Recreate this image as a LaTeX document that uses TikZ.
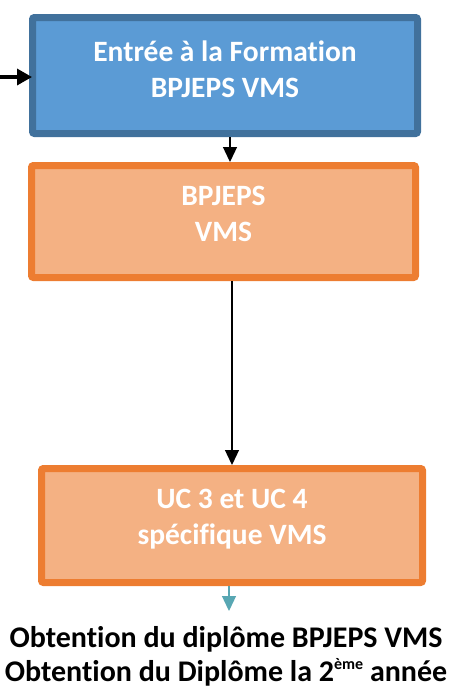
\documentclass[tikz,border=0pt]{standalone}
\usepackage{fontspec}
\setmainfont{Carlito}[Ligatures=NoCommon]
\usetikzlibrary{arrows.meta}
\definecolor{bluefill}{HTML}{5B9BD5}
\definecolor{blueline}{HTML}{41719C}
\definecolor{orfill}{HTML}{F4B183}
\definecolor{orline}{HTML}{ED7D31}
\definecolor{teal}{HTML}{58A7B3}
\begin{document}
\begin{tikzpicture}[x=1pt,y=-1pt,
  boxstyle/.style={rectangle, line width=7pt, rounded corners=2pt, inner sep=0pt},
  boxtext/.style={align=center, text=white, inner sep=0pt, font=\fontsize{29.5}{36}\selectfont\bfseries},
  bluebox/.style={boxstyle, draw=blueline, fill=bluefill},
  orbox/.style={boxstyle, draw=orline, fill=orfill},
  thinarrow/.style={line width=1.3pt, -{Triangle[length=15pt,width=14pt]}},
  thickarrow/.style={line width=3.4pt, -{Triangle[length=15pt,width=16pt]}}]
\useasboundingbox (0,0) rectangle (454,689);
\node[bluebox, minimum width=385pt, minimum height=116pt,
  label={[boxtext, yshift=6.5pt]center:Entrée à la Formation\\BPJEPS VMS}] (entry) at (225,75.5) {};
\node[orbox, minimum width=384pt, minimum height=112pt,
  label={[boxtext, yshift=8pt]center:BPJEPS\\VMS}] (bp) at (223.5,221.5) {};
\node[orbox, minimum width=381pt, minimum height=114pt,
  label={[boxtext, yshift=6pt]center:UC 3 et UC 4\\spécifique VMS}] (uc) at (232,525.5) {};
\node[align=center, inner sep=0pt, font=\fontsize{30}{34}\selectfont\bfseries] (res) at (226,656.5)
  {Obtention du diplôme BPJEPS VMS\\Obtention du Diplôme la 2\raisebox{0.42em}{\fontsize{16}{16}\selectfont ème} année};
\coordinate (start) at (0,77);
\draw[thickarrow] (start) -- ([yshift=-1.5pt,xshift=3pt]entry.west);
\draw[thinarrow] ([xshift=5pt]entry.south) -- ([xshift=6.5pt]bp.north);
\draw[thinarrow] ([xshift=8.5pt]bp.south) -- ([xshift=0pt]uc.north);
\draw[thinarrow, draw=teal, fill=teal] ([xshift=-3pt]uc.south) -- ([xshift=-3pt,yshift=-25pt]uc.south) coordinate (tealend);
\end{tikzpicture}
\end{document}
